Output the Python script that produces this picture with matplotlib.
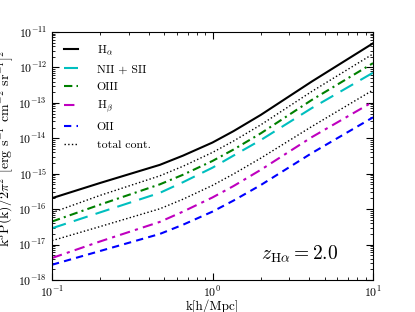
import numpy as np
import matplotlib
matplotlib.use("Agg")
import matplotlib.pyplot as plt
from matplotlib.ticker import LogLocator, NullFormatter

plt.rcParams["font.family"] = "serif"
plt.rcParams["font.serif"] = ["cmr10", "DejaVu Serif"]
plt.rcParams["mathtext.fontset"] = "cm"
plt.rcParams["axes.formatter.use_mathtext"] = True

# k [h/Mpc] and log10 of k^3 P(k) / 2 pi^2
k = [0.1, 0.2, 0.47, 0.655, 1.0, 1.35, 2.0, 4.15, 10.0]
log_halpha  = [-15.69, -15.26, -14.75, -14.49, -14.12, -13.80, -13.34, -12.40, -11.32]
log_tot_up  = [-16.10, -15.61, -15.06, -14.79, -14.40, -14.08, -13.62, -12.68, -11.62]
log_oiii    = [-16.35, -15.87, -15.30, -15.03, -14.64, -14.32, -13.86, -12.92, -11.88]
log_nii_sii = [-16.54, -16.09, -15.54, -15.24, -14.83, -14.49, -14.05, -13.15, -12.15]
log_tot_low = [-16.89, -16.49, -15.99, -15.72, -15.33, -15.01, -14.56, -13.67, -12.64]
log_hbeta   = [-17.38, -16.91, -16.36, -16.07, -15.67, -15.35, -14.89, -13.97, -12.97]
log_oii     = [-17.57, -17.18, -16.70, -16.44, -16.07, -15.76, -15.32, -14.42, -13.41]


def p(v):
    return 10 ** np.array(v)


fig = plt.figure(figsize=(4.15, 3.12), dpi=100)
ax = fig.add_axes([0.1253, 0.1026, 0.7735, 0.7949])

ax.plot(k, p(log_halpha), color="k", lw=1.5, label=r"H$_\alpha$")
ax.plot(k, p(log_nii_sii), color="c", lw=1.5, dashes=(7, 4), label="NII + SII")
ax.plot(k, p(log_oiii), color="g", lw=1.5, dashes=(4, 2, 1, 2), label="OIII")
ax.plot(k, p(log_hbeta), color="m", lw=1.5, dashes=(5, 2.5, 1.5, 2.5), label=r"H$_\beta$")
ax.plot(k, p(log_oii), color="b", lw=1.5, dashes=(3.5, 2.5), label="OII")
ax.plot(k, p(log_tot_up), color="k", lw=1.0, ls=":", label="total cont.")
ax.plot(k, p(log_tot_low), color="k", lw=1.0, ls=":")

ax.set_xscale("log")
ax.set_yscale("log")
ax.set_xlim(0.1, 10)
ax.set_ylim(1e-18, 1e-11)

ax.yaxis.set_major_locator(LogLocator(base=10, numticks=20))
ax.yaxis.set_minor_locator(LogLocator(base=10, subs=np.arange(2, 10), numticks=100))
ax.yaxis.set_minor_formatter(NullFormatter())
ax.tick_params(which="both", direction="in", top=True, right=True, labelsize=8.5)
ax.tick_params(which="major", length=5)
ax.tick_params(which="minor", length=2.5)

ax.set_xlabel("k[h/Mpc]", fontsize=9.5, labelpad=0)
ax.set_ylabel(r"k$^3$P(k)/2$\pi^2$ [erg s$^{-1}$ cm$^{-2}$ sr$^{-1}$]$^2$", fontsize=10)
ax.yaxis.set_label_coords(-0.112, 0.53)

ax.text(0.65, 0.08, r"$z_{\rm H\alpha} = 2.0$", transform=ax.transAxes,
        fontsize=14, va="baseline")

ax.legend(loc="upper left", frameon=False, fontsize=8.5, handlelength=1.2,
          handletextpad=1.6, labelspacing=0.6, borderaxespad=0.6)

fig.savefig("out.png", dpi=100)
